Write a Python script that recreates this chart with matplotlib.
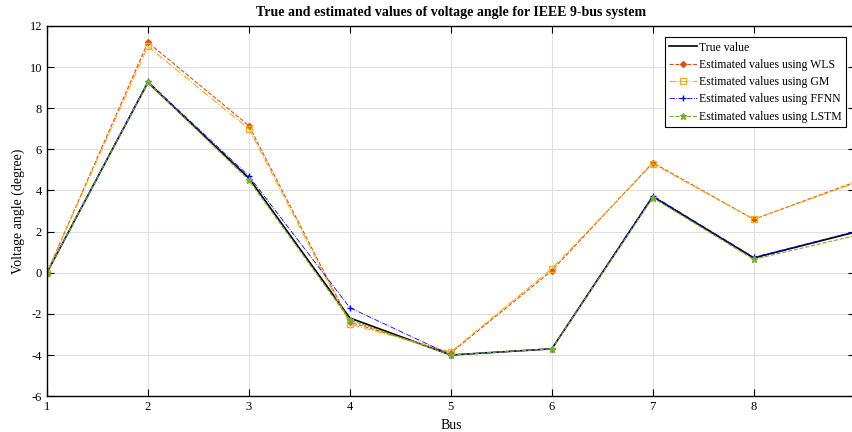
import matplotlib.pyplot as plt

plt.rcParams['font.family'] = ['Liberation Serif', 'DejaVu Serif']
plt.rcParams['axes.unicode_minus'] = False

# Data
bus = [1, 2, 3, 4, 5, 6, 7, 8, 9]
true_val = [0, 9.25, 4.6, -2.2, -4.0, -3.7, 3.7, 0.72, 1.97]
wls = [0, 11.2, 7.15, -2.4, -3.9, 0.1, 5.35, 2.6, 4.4]
gm = [0, 11.0, 7.0, -2.5, -3.85, 0.2, 5.3, 2.6, 4.35]
ffnn = [0, 9.3, 4.7, -1.7, -4.0, -3.7, 3.75, 0.75, 2.0]
lstm = [0, 9.25, 4.5, -2.3, -4.0, -3.7, 3.65, 0.65, 1.8]

x_ticks = [1, 2, 3, 4, 5, 6, 7, 8]
y_ticks = list(range(-6, 13, 2))

fig = plt.figure(figsize=(8.53, 4.32), dpi=100)
ax = fig.add_axes([0.055, 0.083, 0.947, 0.857])

ax.plot(bus, true_val, color='black', lw=1.2, label='True value')
ax.plot(bus, wls, color='#D95319', ls='--', lw=0.8, marker='D', ms=3,
        label='Estimated values using WLS')
ax.plot(bus, gm, color='#EDB120', ls='-.', lw=0.8, marker='s', ms=4,
        mfc='none', label='Estimated values using GM')
ax.plot(bus, ffnn, color='#0000FF', ls='-.', lw=0.6, marker='+', ms=5,
        label='Estimated values using FFNN')
ax.plot(bus, lstm, color='#77AC30', ls='--', lw=0.8, marker='*', ms=5,
        label='Estimated values using LSTM')

ax.set_xlim(1, 9)
ax.set_ylim(-6, 12)
ax.set_xticks(x_ticks)
ax.set_yticks(y_ticks)
ax.grid(True, color='#E0E0E0', lw=0.8)
ax.set_axisbelow(True)
ax.tick_params(direction='in', top=True, right=True, labelsize=9, length=5)
for s in ax.spines.values():
    s.set_linewidth(1.0)

ax.set_title('True and estimated values of voltage angle for IEEE 9-bus system',
             fontsize=10, fontweight='bold', pad=7)
ax.set_xlabel('Bus', fontsize=10)
ax.set_ylabel('Voltage angle (degree)', fontsize=10, labelpad=3)

leg = ax.legend(loc='upper right', fontsize=8.5, fancybox=False, framealpha=1,
                edgecolor='black', borderpad=0.35, labelspacing=0.45,
                handlelength=2.4, handletextpad=0.2, bbox_to_anchor=(0.997, 0.985))
leg.get_frame().set_linewidth(0.8)

fig.savefig('out.png', dpi=100)
